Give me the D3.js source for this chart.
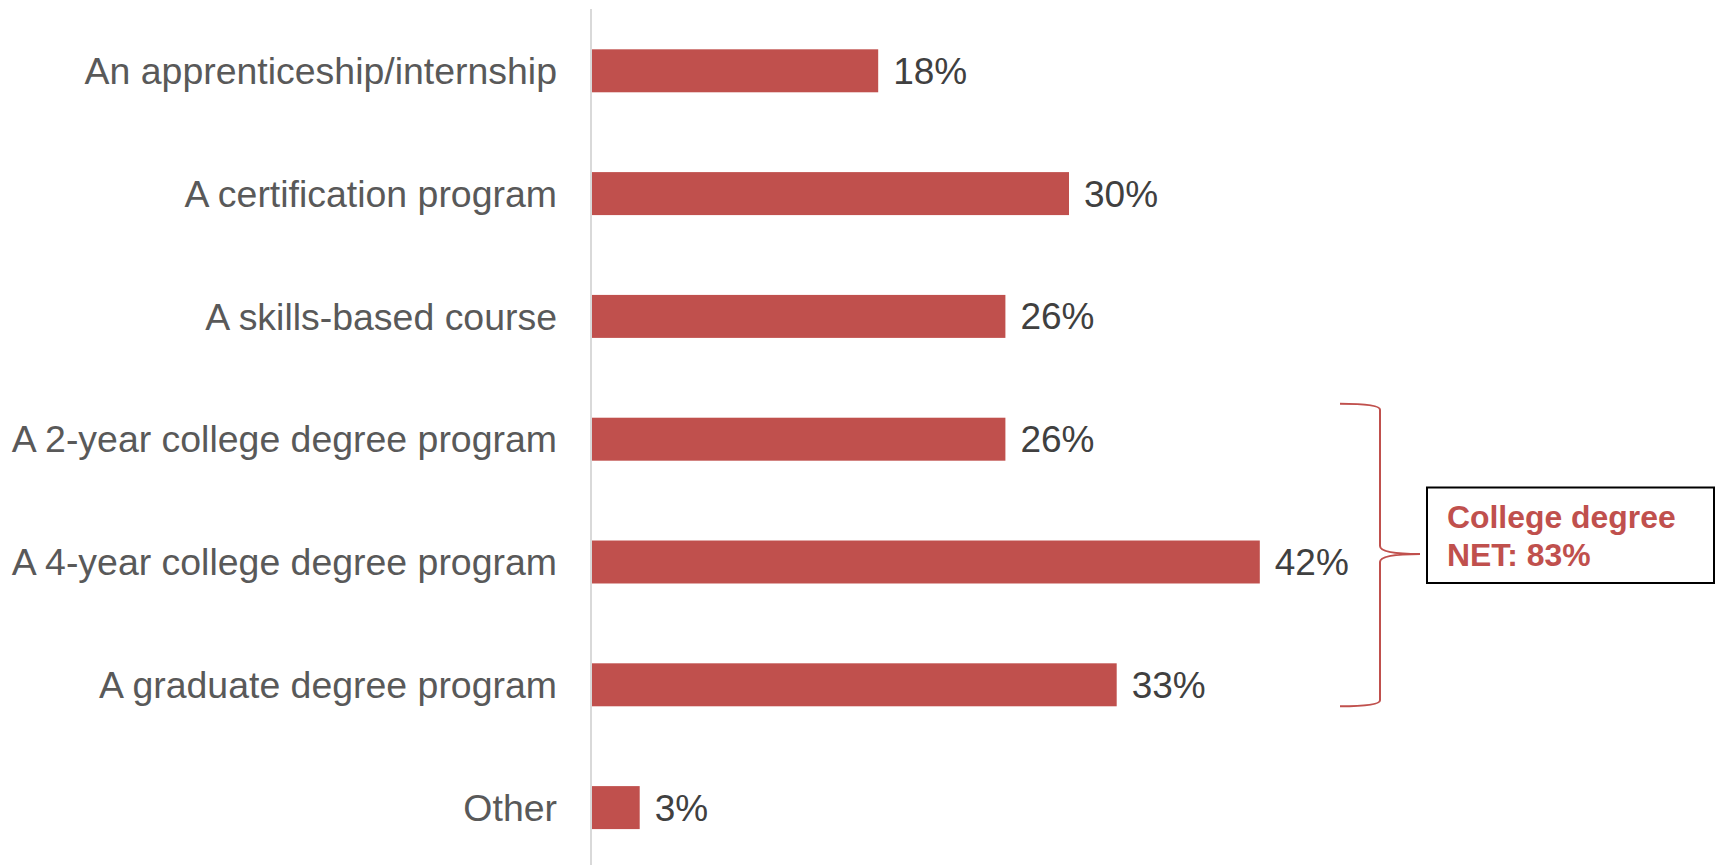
<!DOCTYPE html>
<html>
<head>
<meta charset="utf-8">
<script src="https://cdn.jsdelivr.net/npm/d3@7"></script>
<style>
  html, body { margin: 0; padding: 0; background: #ffffff; }
  svg { display: block; }
</style>
</head>
<body>
<svg id="chart" width="1721" height="865"></svg>
<script>
// Categories (top to bottom) and their shares
const categories = [
  "An apprenticeship/internship",
  "A certification program",
  "A skills-based course",
  "A 2-year college degree program",
  "A 4-year college degree program",
  "A graduate degree program",
  "Other"
];
const values = [0.18, 0.30, 0.26, 0.26, 0.42, 0.33, 0.03];

// Grouped net for the college-degree rows
const netGroup = ["A 2-year college degree program", "A 4-year college degree program", "A graduate degree program"];
const netLabel = ["College degree", "NET: 83%"];

(function () {
  const svg = d3.select("#chart");
  const H = 865;

  const barColor = "#C0504D";
  const fmt = d3.format(".0%");

  const x = d3.scaleLinear().domain([0, 1]).range([592, 592 + 1590]);
  const y = d3.scaleBand()
    .domain(categories)
    .range([9.4, 869])
    .paddingInner(0.65)
    .paddingOuter(0.325);

  const data = categories.map((c, i) => ({ cat: c, val: values[i] }));

  // Vertical category axis line
  svg.append("line")
    .attr("x1", 591).attr("x2", 591)
    .attr("y1", 9).attr("y2", H)
    .attr("stroke", "#d9d9d9")
    .attr("stroke-width", 2);

  // Category labels
  const yAxis = d3.axisLeft(y).tickSize(0).tickPadding(0);
  const gy = svg.append("g")
    .attr("transform", "translate(557,0)")
    .call(yAxis);
  gy.select(".domain").remove();
  gy.selectAll("text")
    .attr("font-family", "Liberation Sans, Arial, sans-serif")
    .attr("font-size", 37.45)
    .attr("fill", "#595959")
    .attr("dy", "0.35em");

  // Bars
  svg.append("g").selectAll("rect")
    .data(data)
    .join("rect")
    .attr("x", x(0))
    .attr("y", d => y(d.cat))
    .attr("width", d => x(d.val) - x(0))
    .attr("height", y.bandwidth())
    .attr("fill", barColor);

  // Value labels
  svg.append("g").selectAll("text")
    .data(data)
    .join("text")
    .attr("x", d => x(d.val) + 15)
    .attr("y", d => y(d.cat) + y.bandwidth() / 2)
    .attr("dy", "0.35em")
    .attr("font-family", "Liberation Sans, Arial, sans-serif")
    .attr("font-size", 37)
    .attr("fill", "#404040")
    .text(d => fmt(d.val));

  // Curly brace spanning the college-degree rows
  const braceTop = y(netGroup[0]) - 14;
  const braceBot = y(netGroup[netGroup.length - 1]) + y.bandwidth();
  const bx0 = 1340, bx1 = 1380, tipX = 1420, tipY = 554;
  const brace = d3.path();
  brace.moveTo(bx0, braceTop);
  brace.quadraticCurveTo(bx1, braceTop, bx1, braceTop + 6);
  brace.lineTo(bx1, tipY - 8);
  brace.quadraticCurveTo(bx1, tipY, tipX, tipY);
  brace.quadraticCurveTo(bx1, tipY, bx1, tipY + 8);
  brace.lineTo(bx1, braceBot - 6);
  brace.quadraticCurveTo(bx1, braceBot, bx0, braceBot);
  svg.append("path")
    .attr("d", brace.toString())
    .attr("fill", "none")
    .attr("stroke", barColor)
    .attr("stroke-width", 2);

  // Net callout box
  svg.append("rect")
    .attr("x", 1427).attr("y", 487.5)
    .attr("width", 287).attr("height", 95.5)
    .attr("fill", "#ffffff")
    .attr("stroke", "#000000")
    .attr("stroke-width", 2);

  svg.append("g").selectAll("text")
    .data(netLabel)
    .join("text")
    .attr("x", 1447)
    .attr("y", (d, i) => 527.5 + i * 38.4)
    .attr("font-family", "Liberation Sans, Arial, sans-serif")
    .attr("font-size", 31.9)
    .attr("font-weight", "bold")
    .attr("fill", barColor)
    .text(d => d);
})();
</script>
</body>
</html>
